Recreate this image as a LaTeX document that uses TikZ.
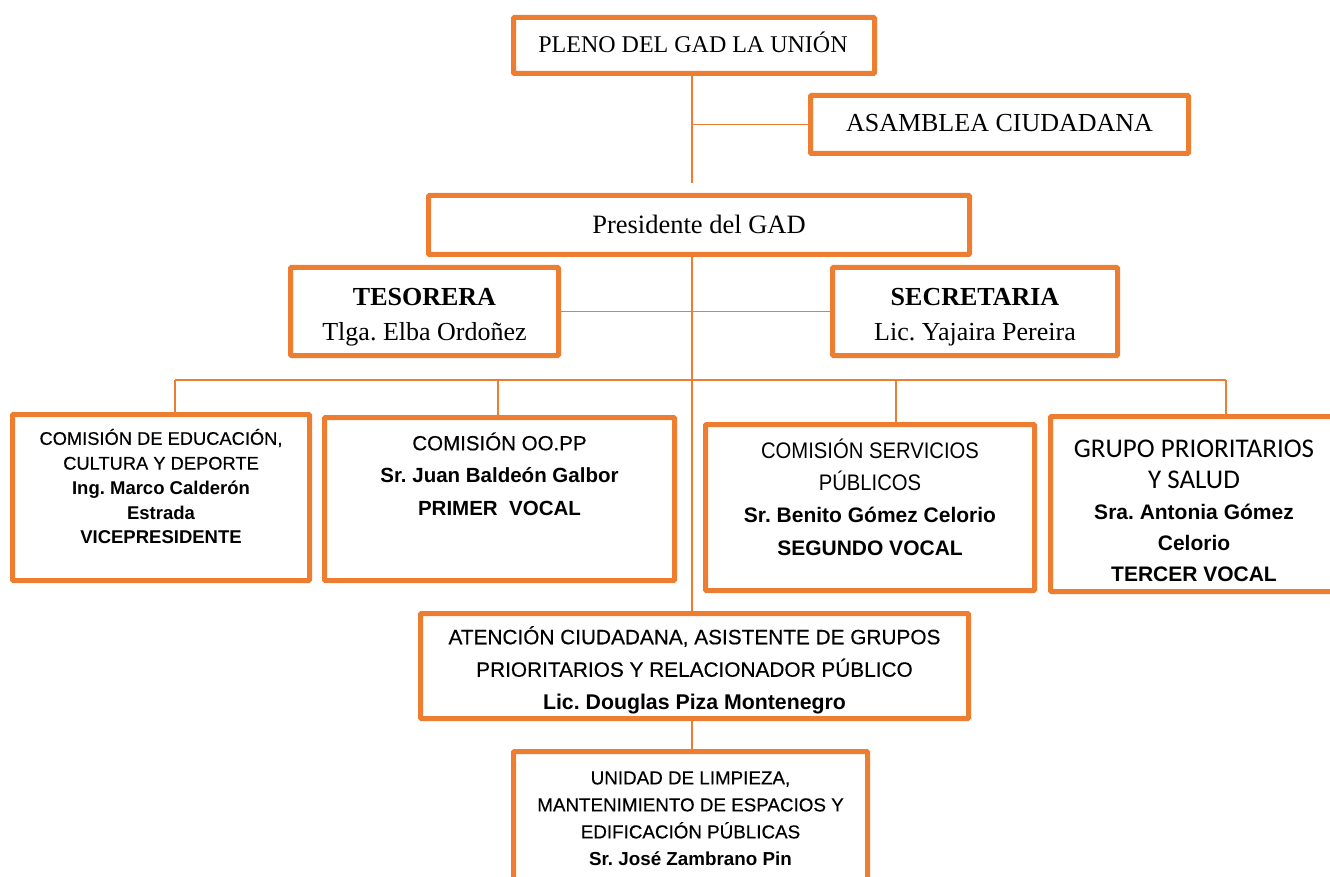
\documentclass[tikz,border=0pt]{standalone}
\usepackage{fontspec}
\setmainfont{Liberation Serif}
\newfontfamily\cnd{Liberation Sans}
\newfontfamily\cndm[FakeBold=0.4]{Liberation Sans}
\newfontfamily\cndl[FakeStretch=0.9]{Liberation Sans}
\newfontfamily\carl{Carlito}
\definecolor{org}{HTML}{ED7D31}
\frenchspacing
\begin{document}
\begin{tikzpicture}[x=1pt,y=-1pt,
  box/.style={draw=org, line width=5pt, fill=white, inner sep=0pt, rounded corners=1pt},
  conn/.style={draw=org, line width=1.8pt},
  txt/.style={inner sep=0pt, align=center, text=black}]
\useasboundingbox (0,0) rectangle (1330,877);
\clip (0,0) rectangle (1330,877);
% coordinates for connectors
\coordinate (top) at (692,183);
\coordinate (busL) at (175,380);
\coordinate (busR) at (1226,380);
\coordinate (busA) at (498,380);
\coordinate (busB) at (896,380);
% boxes
\node[box, minimum width=361pt, minimum height=56pt] (pleno) at (694,45.5) {};
\node[box, minimum width=378pt, minimum height=58pt] (asam) at (999.5,124.5) {};
\node[box, minimum width=541pt, minimum height=59pt] (pres) at (699,225) {};
\node[box, minimum width=268pt, minimum height=88pt] (tes) at (424.5,311.5) {};
\node[box, minimum width=285pt, minimum height=88pt] (sec) at (975,311.5) {};
\node[box, minimum width=297pt, minimum height=166pt] (b1) at (161,497.5) {};
\node[box, minimum width=350pt, minimum height=163pt] (b2) at (499.5,499) {};
\node[box, minimum width=329pt, minimum height=166pt] (b3) at (870,507.5) {};
\node[box, minimum width=287pt, minimum height=175pt] (b4) at (1194,504) {};
\node[box, minimum width=548pt, minimum height=105pt] (aten) at (694.5,666) {};
\node[box, minimum width=354pt, minimum height=146pt] (uni) at (690.5,824.5) {};
% connectors
\draw[conn] (pleno.south -| top) -- (top);
\draw[conn] (asam.west) -- (asam.west -| top);
\draw[conn] (pres.south -| top) -- (aten.north -| top);
\draw[conn] (tes.east) -- (sec.west);
\draw[conn] (busL) -- (busR);
\draw[conn] (busL) -- (b1.north -| busL);
\draw[conn] (busA) -- (b2.north -| busA);
\draw[conn] (busB) -- (b3.north -| busB);
\draw[conn] (busR) -- (b4.north -| busR);
\draw[conn] (aten.south -| top) -- (uni.north -| top);
% texts
\node[txt, font=\fontsize{24}{28}\selectfont] (tpleno) at (693,42) {PLENO DEL GAD LA UNIÓN};
\node[txt, font=\fontsize{26}{30}\selectfont] (tasam) at (999.5,123) {ASAMBLEA CIUDADANA};
\node[txt, font=\fontsize{26.5}{30}\selectfont] (tpres) at (699,224) {Presidente del GAD};
\node[txt, font=\fontsize{26}{35}\selectfont] (ttes) at (424.5,317) {\textbf{TESORERA}\\Tlga. Elba Ordoñez};
\node[txt, font=\fontsize{26}{35}\selectfont] (tsec) at (975,317) {\textbf{SECRETARIA}\\Lic. Yajaira Pereira};
\node[txt, font=\cndm\fontsize{18.3}{24.75}\selectfont] (t1) at (161,486.5) {COMISIÓN DE EDUCACIÓN,\\CULTURA Y DEPORTE\\\cnd\bfseries\fontsize{18.5}{24.75}\selectfont Ing. Marco Calderón\\\cnd\bfseries\fontsize{18.5}{24.75}\selectfont Estrada\\\cnd\bfseries\fontsize{18.5}{24.75}\selectfont VICEPRESIDENTE};
\node[txt, font=\cndm\fontsize{20.5}{32.5}\selectfont] (t2) at (499.5,474) {COMISIÓN OO.PP\\\cnd\bfseries Sr. Juan Baldeón Galbor\\\cnd\bfseries PRIMER~~VOCAL};
\node[txt, font=\cndl\fontsize{22.5}{32.3}\selectfont] (t3) at (870,497) {COMISIÓN SERVICIOS\\PÚBLICOS\\\cnd\bfseries\fontsize{21}{32.3}\selectfont Sr. Benito Gómez Celorio\\\cnd\bfseries\fontsize{21}{32.3}\selectfont SEGUNDO VOCAL};
\node[txt, font=\fontsize{21}{31}\selectfont] (t4) at (1194,511) {\carl\fontsize{27}{31}\selectfont GRUPO PRIORITARIOS\\\carl\fontsize{27}{31}\selectfont Y SALUD\\\cnd\bfseries\fontsize{21}{31}\selectfont Sra. Antonia Gómez\\\cnd\bfseries\fontsize{21}{31}\selectfont Celorio\\\cnd\bfseries\fontsize{21}{31}\selectfont TERCER VOCAL};
\node[txt, font=\cndm\fontsize{20.8}{32.5}\selectfont] (t5) at (694.5,670) {ATENCIÓN CIUDADANA, ASISTENTE DE GRUPOS\\PRIORITARIOS Y RELACIONADOR PÚBLICO\\\cnd\bfseries\fontsize{21.3}{32.5}\selectfont Lic. Douglas Piza Montenegro};
\node[txt, font=\cndm\fontsize{18.8}{27}\selectfont] (t6) at (690.5,818.5) {UNIDAD DE LIMPIEZA,\\MANTENIMIENTO DE ESPACIOS Y\\EDIFICACIÓN PÚBLICAS\\\cnd\bfseries Sr. José Zambrano Pin};
\end{tikzpicture}
\end{document}
